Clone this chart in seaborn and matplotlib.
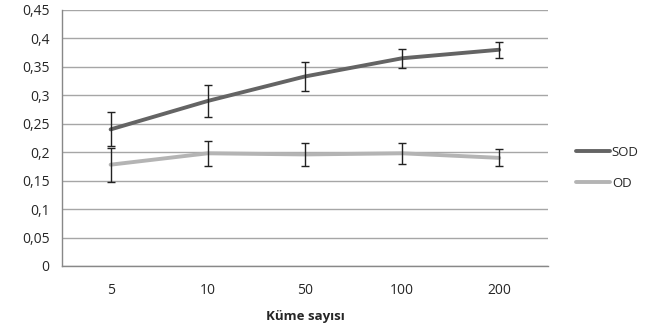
import numpy as np
import pandas as pd
import matplotlib
matplotlib.use("Agg")
import matplotlib.pyplot as plt
import seaborn as sns
from matplotlib.lines import Line2D

# data
clusters = ["5", "10", "50", "100", "200"]
sod_mean = [0.240, 0.290, 0.333, 0.365, 0.380]
sod_err = [0.030, 0.028, 0.025, 0.017, 0.014]
od_mean = [0.178, 0.198, 0.196, 0.198, 0.190]
od_err = [0.030, 0.022, 0.020, 0.018, 0.015]
series_names = ["SOD", "OD"]
colors = {"SOD": "#646464", "OD": "#b4b4b4"}

df = pd.DataFrame({
    "Küme sayısı": clusters * 2,
    "value": sod_mean + od_mean,
    "series": ["SOD"] * len(clusters) + ["OD"] * len(clusters),
})

sns.set_style("white")
plt.rcParams["font.family"] = ["Open Sans", "DejaVu Sans"]

fig = plt.figure(figsize=(6.6, 3.3), dpi=100)
ax = fig.add_axes([0.094, 0.194, 0.736, 0.776])

# gridlines
ax.set_yticks(np.arange(0, 0.4501, 0.05))
ax.yaxis.grid(True, color="#a6a6a6", linewidth=1)
ax.set_axisbelow(True)

sns.lineplot(data=df, x="Küme sayısı", y="value", hue="series",
             hue_order=series_names, palette=colors, linewidth=2.8,
             sort=False, ax=ax, legend=False, zorder=3)

for name, mean, err in [("SOD", sod_mean, sod_err), ("OD", od_mean, od_err)]:
    ax.errorbar(clusters, mean, yerr=err, fmt="none", ecolor="#222222",
                elinewidth=1, capsize=3, capthick=1, zorder=4)

ax.set_xlim(-0.5, len(clusters) - 0.5)
ax.set_ylim(0, 0.45)
ax.set_yticklabels([f"{v:.2f}".rstrip("0").rstrip(".").replace(".", ",")
                    for v in np.arange(0, 0.4501, 0.05)])

ax.set_xticks(np.arange(-0.5, len(clusters)), minor=True)
ax.tick_params(axis="x", which="major", length=0, pad=12, labelsize=10)
ax.tick_params(axis="x", which="minor", length=4, color="#888888", direction="out")
ax.tick_params(axis="y", length=4, color="#888888", direction="out", pad=5, labelsize=10)

for side in ["top", "right"]:
    ax.spines[side].set_visible(False)
for side in ["left", "bottom"]:
    ax.spines[side].set_color("#888888")
    ax.spines[side].set_linewidth(1)

ax.set_ylabel("")
ax.set_xlabel("Küme sayısı", fontweight="bold", fontsize=9.5, labelpad=9)

# legend
handles = [Line2D([0], [0], color=colors[n], linewidth=2.8) for n in series_names]
fig.legend(handles, series_names, loc="center left", bbox_to_anchor=(0.855, 0.492),
           frameon=False, fontsize=9.5, handlelength=2.6, handletextpad=0.1,
           labelspacing=1.35)

fig.savefig("out.png", dpi=100)
